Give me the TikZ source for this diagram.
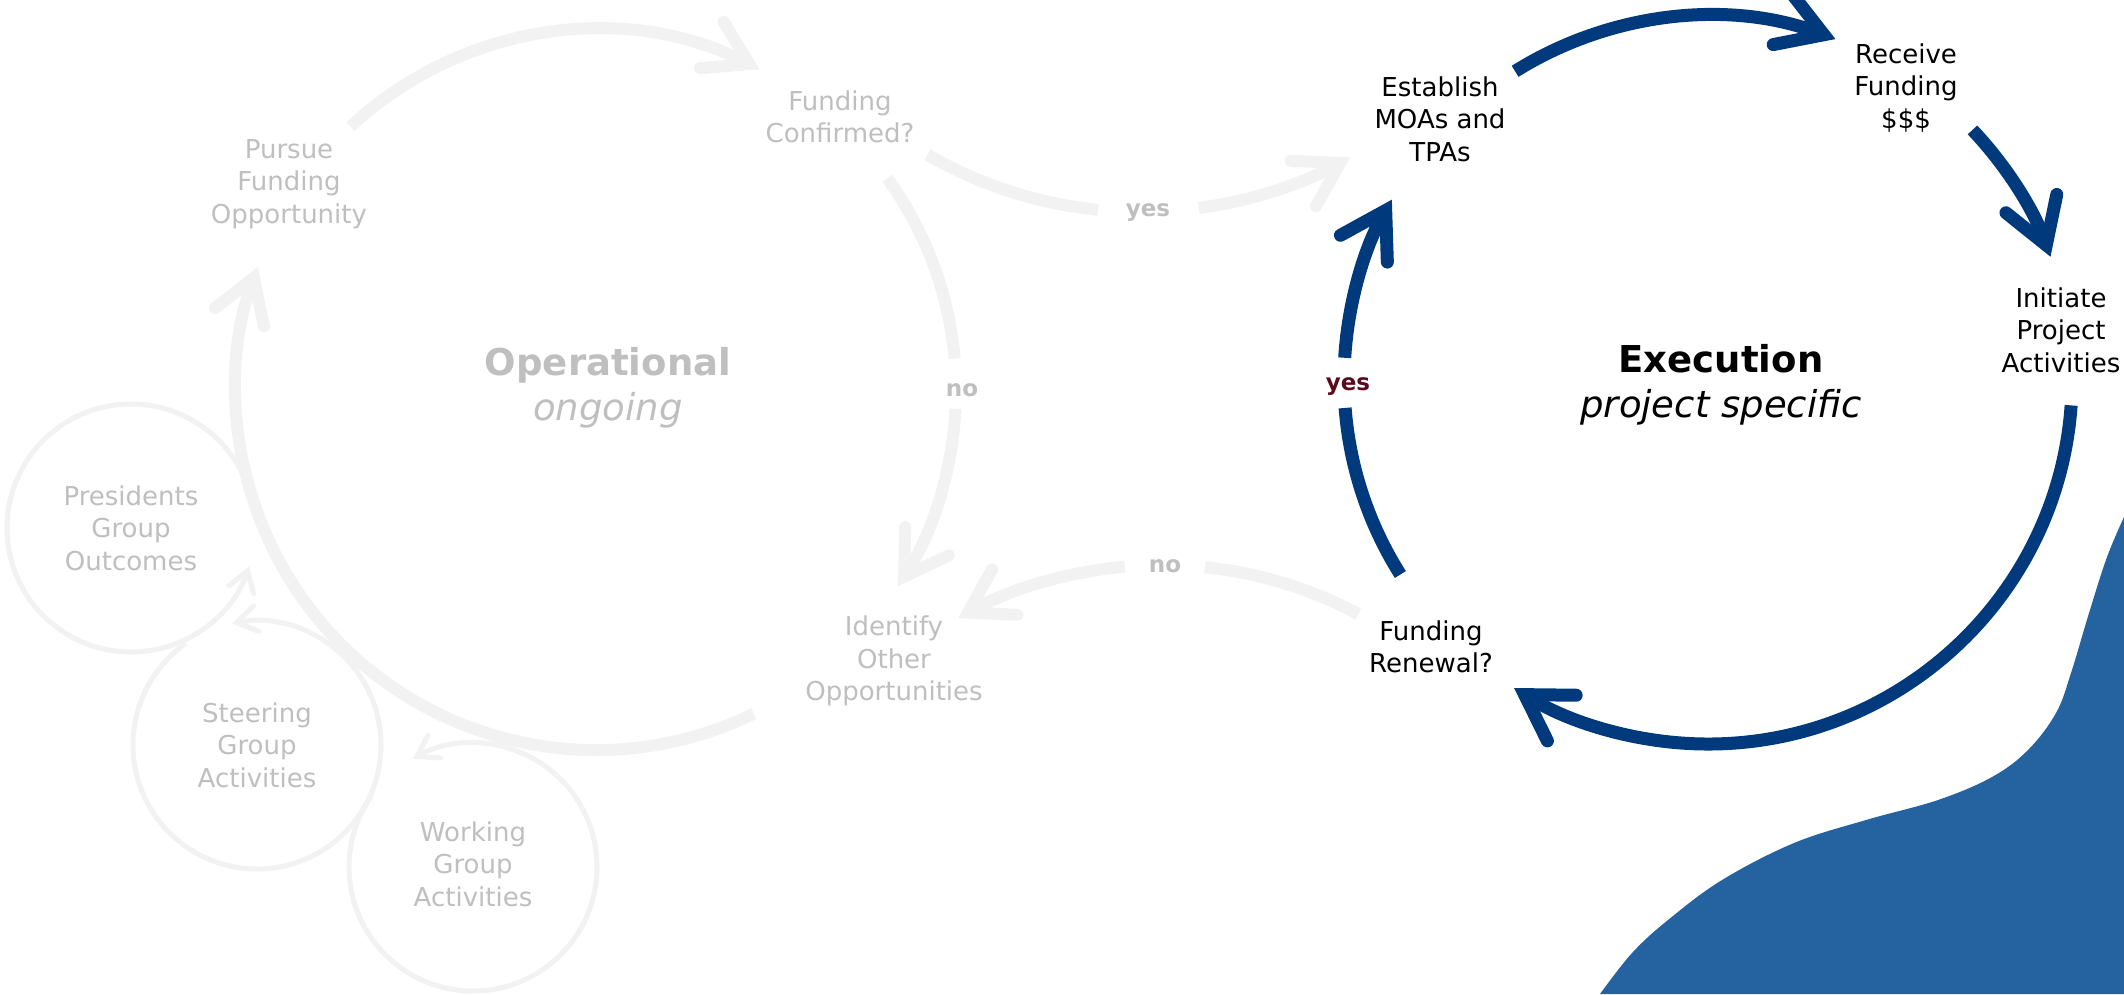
\documentclass[tikz,border=0pt]{standalone}
\usepackage{fontspec}
\setmainfont{DejaVu Sans}
\usetikzlibrary{arrows.meta}
\definecolor{opgray}{HTML}{F2F2F2}
\definecolor{optext}{HTML}{BFBFBF}
\definecolor{exblue}{HTML}{003A7D}
\definecolor{blobblue}{HTML}{2462A0}
\definecolor{yesred}{HTML}{5C0A1E}
\begin{document}
\begin{tikzpicture}[x=1pt,y=-1pt,
  graytext/.style={text=optext, align=center, font=\fontsize{26}{32.5}\selectfont, inner sep=0pt},
  blacktext/.style={text=black, align=center, font=\fontsize{26}{32.5}\selectfont, inner sep=0pt},
  bigtext/.style={align=center, font=\fontsize{37}{45}\selectfont, inner sep=0pt},
  graylbl/.style={text=optext, font=\bfseries\fontsize{23}{28}\selectfont, inner sep=0pt},
  grayarc/.style={draw=opgray, line width=12pt},
  grayarrow/.style={grayarc, -{Straight Barb[length=42pt, width=52pt, line cap=round]}},
  bluearc/.style={draw=exblue, line width=13pt},
  bluearrow/.style={bluearc, -{Straight Barb[length=44pt, width=54pt, line cap=round]}},
  ring/.style={draw=opgray, line width=5pt},
  ringarrow/.style={ring, -{Straight Barb[length=20pt, width=26pt, line cap=round]}},
]
\useasboundingbox (0,0) rectangle (2124,994);
\fill[white] (0,0) rectangle (2124,994);

% background blob
\fill[blobblue] plot[smooth, tension=0.6] coordinates {(2124,517) (2107,557) (2089,613) (2071,673) (2056,713) (2028,750) (1992,777) (1938,800) (1866,820) (1794,843) (1722,880) (1668,920) (1632,953) (1600,994)} -- (2124,994) -- cycle;

% ---------- Operational (gray) ----------
\coordinate (opA) at ({596+360*cos(-133)},{390+360*sin(-133)});
\draw[grayarrow] (opA) arc[start angle=-133, end angle=-63, radius=360];
\coordinate (opB1) at ({596+360*cos(-36)},{390+360*sin(-36)});
\draw[grayarc] (opB1) arc[start angle=-36, end angle=-5, radius=360];
\coordinate (opB2) at ({596+360*cos(3)},{390+360*sin(3)});
\draw[grayarrow] (opB2) arc[start angle=3, end angle=33, radius=360];
\coordinate (opC) at ({596+360*cos(64)},{390+360*sin(64)});
\draw[grayarrow] (opC) arc[start angle=64, end angle=200, radius=360];

% small rings
\coordinate (prA) at ({131+124*cos(-8)},{528+124*sin(-8)});
\draw[ringarrow] (prA) arc[start angle=-8, end angle=-342, radius=124];
\coordinate (stA) at ({257+124*cos(235)},{745+124*sin(235)});
\draw[ringarrow] (stA) arc[start angle=235, end angle=-101.6, radius=124];
\coordinate (wkA) at ({473+124*cos(215)},{867+124*sin(215)});
\draw[ringarrow] (wkA) arc[start angle=215, end angle=-119, radius=124];

% yes connector (Funding Confirmed -> Establish)
\coordinate (ysA) at ({1141+427*cos(120)},{-215+427*sin(120)});
\draw[grayarc] (ysA) arc[start angle=120, end angle=95.8, radius=427];
\coordinate (ysB) at ({1141+427*cos(82.2)},{-215+427*sin(82.2)});
\draw[grayarrow] (ysB) arc[start angle=82.2, end angle=60.7, radius=427];

% no connector (Funding Renewal -> Identify)
\coordinate (noA) at ({1162+418*cos(-62)},{983+418*sin(-62)});
\draw[grayarc] (noA) arc[start angle=-62, end angle=-84.1, radius=418];
\coordinate (noB) at ({1162+418*cos(-95.1)},{983+418*sin(-95.1)});
\draw[grayarrow] (noB) arc[start angle=-95.1, end angle=-119.2, radius=418];

% ---------- Execution (blue) ----------
\coordinate (exA) at ({1708+364*cos(-122)},{380+364*sin(-122)});
\draw[bluearrow] (exA) arc[start angle=-122, end angle=-69.5, radius=364];
\coordinate (exB) at ({1708+364*cos(-43.4)},{380+364*sin(-43.4)});
\draw[bluearrow] (exB) arc[start angle=-43.4, end angle=-19.8, radius=364];
\coordinate (exC) at ({1708+364*cos(4)},{380+364*sin(4)});
\draw[bluearrow] (exC) arc[start angle=4, end angle=122.2, radius=364];
\coordinate (exD1) at ({1708+364*cos(147.7)},{380+364*sin(147.7)});
\draw[bluearc] (exD1) arc[start angle=147.7, end angle=175.6, radius=364];
\coordinate (exD2) at ({1708+364*cos(183.5)},{380+364*sin(183.5)});
\draw[bluearrow] (exD2) arc[start angle=183.5, end angle=209.7, radius=364];

% ---------- texts ----------
\node[graytext] (pursue) at (289,184) {Pursue\\Funding\\Opportunity};
\node[graytext] (confirmed) at (840,117) {Funding\\Confirmed?};
\node[graytext] (identify) at (894,661) {Identify\\Other\\Opportunities};
\node[graytext] (presidents) at (131,528) {Presidents\\Group\\Outcomes};
\node[graytext] (steering) at (257,745) {Steering\\Group\\Activities};
\node[graytext] (working) at (473,864) {Working\\Group\\Activities};
\node[bigtext, text=optext] (operational) at (608,388)
  {{\bfseries Operational}\\{\itshape ongoing}};
\node[graylbl] (noR) at (962,390) {no};
\node[graylbl] (yesT) at (1148,213) {yes};
\node[graylbl] (noB) at (1165,566) {no};

\node[blacktext] (establish) at (1440,119) {Establish\\MOAs and\\TPAs};
\node[blacktext] (receive) at (1906,88) {Receive\\Funding\\\$\$\$};
\node[blacktext] (initiate) at (2061,330) {Initiate\\Project\\Activities};
\node[blacktext] (renewal) at (1431,647) {Funding\\Renewal?};
\node[bigtext, text=black] (execution) at (1721,385)
  {{\bfseries Execution}\\{\itshape project specific}};
\node[text=yesred, font=\bfseries\fontsize{23}{28}\selectfont, inner sep=0pt] (yesL) at (1348,387) {yes};
\end{tikzpicture}
\end{document}
